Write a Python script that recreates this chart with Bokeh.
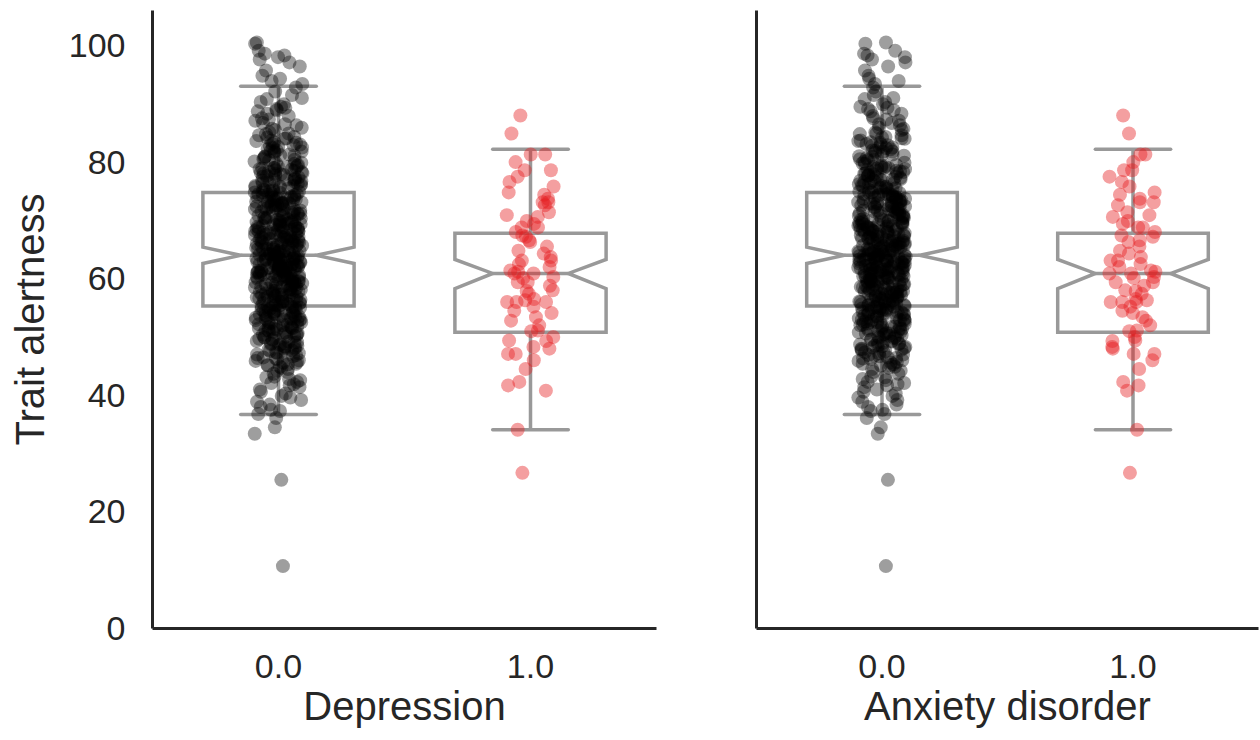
from bokeh.plotting import figure
from bokeh.layouts import row
from bokeh.models import Range1d, FixedTicker, ColumnDataSource
from bokeh.transform import jitter
from bokeh.embed import file_html
from bokeh.resources import INLINE

# ---------------- data ----------------
categories = [0, 1]
tick_labels = ["0.0", "1.0"]
panel_titles = ["Depression", "Anxiety disorder"]
y_label = "Trait alertness"
y_ticks = [0, 20, 40, 60, 80, 100]

# trait alertness, group 0.0 (no diagnosis)
alert_no = [
    10.7, 25.5, 33.4, 34.5,
    36.1, 36.8, 37.3, 37.5, 38.0, 38.4, 38.9, 39.2, 39.6, 39.9,
    40.3, 40.6, 41.0, 41.4, 41.7, 42.1, 42.3, 42.8, 43.1, 43.2, 43.7, 44.0, 44.2, 44.5, 44.7, 44.9, 42.6, 41.9,
    45.1, 45.3, 45.6, 45.9, 46.2, 46.4, 46.5, 46.8, 47.0, 47.3, 47.6, 47.8, 48.1, 48.4, 48.7, 48.9, 49.0, 49.3,
    49.5, 49.8, 45.7, 46.9, 47.4, 48.2, 48.6, 49.1, 49.6, 45.2, 47.9, 49.9,
    45.4, 46.0, 46.7, 47.2, 47.7, 48.0, 48.5, 48.8, 49.2, 49.7, 46.3, 48.3,
    50.2, 50.4, 50.6, 50.9, 51.0, 51.3, 51.5, 51.8, 52.0, 52.3, 52.5, 52.7, 52.9, 53.0, 53.3, 53.4, 53.6, 53.8,
    54.0, 54.1, 54.3, 54.6, 54.8, 54.9, 50.1, 50.7, 51.2, 51.6, 51.9, 52.2, 52.6, 53.1, 53.5, 53.9, 54.2, 54.5,
    54.7, 50.5, 51.4, 52.8, 53.7, 54.4,
    50.3, 50.8, 51.1, 51.7, 52.1, 52.4, 53.2, 53.8, 54.3, 54.9, 50.0, 51.5, 52.6, 53.0, 53.6, 54.1, 54.6, 51.9,
    52.9, 50.6,
    55.0, 55.2, 55.3, 55.5, 55.7, 55.8, 56.0, 56.1, 56.3, 56.5, 56.6, 56.8, 57.0, 57.1, 57.3, 57.4, 57.6, 57.8,
    57.9, 58.0, 58.2, 58.3, 58.5, 58.7, 58.8, 59.0, 59.1, 59.3, 59.5, 59.6, 59.8, 59.9, 55.4, 55.9, 56.4, 56.9,
    57.2, 57.7, 58.1, 58.6, 59.2, 59.7, 55.1, 56.2, 57.5, 58.4, 59.4, 55.6,
    55.2, 55.6, 56.0, 56.5, 56.9, 57.3, 57.7, 58.2, 58.6, 59.0, 59.5, 59.9, 55.8, 56.3, 57.0, 57.6, 58.0, 58.9,
    59.3, 55.5, 56.7, 57.9, 58.5, 59.7,
    60.0, 60.1, 60.2, 60.4, 60.5, 60.6, 60.8, 60.9, 61.0, 61.1, 61.3, 61.4, 61.5, 61.7, 61.8, 61.9, 62.0, 62.2,
    62.3, 62.4, 62.5, 62.7, 62.8, 62.9, 63.0, 63.1, 63.3, 63.4, 63.5, 63.6, 63.8, 63.9, 64.0, 64.1, 64.2, 64.4,
    64.5, 64.6, 64.7, 64.9, 60.3, 60.7, 61.2, 61.6, 62.1, 62.6, 63.2, 63.7, 64.3, 64.8, 60.4, 61.0, 61.9, 62.5,
    63.0, 63.5, 64.1, 64.6, 62.8, 61.4,
    60.2, 60.6, 61.1, 61.5, 61.8, 62.3, 62.7, 63.1, 63.4, 63.8, 64.2, 64.7, 60.0, 60.9, 61.6, 62.0, 62.9, 63.3,
    63.9, 64.4, 64.9, 60.5, 61.3, 62.4, 63.6, 64.0, 61.7, 62.6,
    65.0, 65.1, 65.3, 65.4, 65.6, 65.7, 65.9, 66.0, 66.2, 66.3, 66.5, 66.6, 66.8, 66.9, 67.1, 67.2, 67.4, 67.5,
    67.7, 67.8, 68.0, 68.1, 68.3, 68.4, 68.6, 68.7, 68.9, 69.0, 69.2, 69.3, 69.5, 69.6, 69.8, 69.9, 65.2, 65.8,
    66.4, 67.0, 67.6, 68.2, 68.8, 69.4, 65.5, 66.1, 66.7, 67.3, 67.9, 68.5, 69.1, 69.7, 66.0, 68.0,
    65.1, 65.6, 66.1, 66.5, 66.9, 67.3, 67.8, 68.2, 68.6, 69.1, 69.5, 69.8, 65.3, 65.9, 66.7, 67.5, 68.1, 68.9,
    69.3, 65.7, 66.3, 67.1, 68.4, 69.6,
    70.0, 70.2, 70.3, 70.5, 70.7, 70.8, 71.0, 71.2, 71.3, 71.5, 71.7, 71.9, 72.0, 72.2, 72.4, 72.5, 72.7, 72.9,
    73.1, 73.2, 73.4, 73.6, 73.8, 73.9, 74.1, 74.3, 74.5, 74.6, 74.8, 74.9, 70.4, 71.1, 71.8, 72.6, 73.3, 74.0,
    74.7, 70.9, 71.6, 72.3, 73.0, 73.7, 74.4, 70.1, 72.8, 74.2,
    70.3, 70.8, 71.2, 71.7, 72.1, 72.6, 73.0, 73.5, 74.0, 74.5, 70.6, 71.4, 72.4, 73.2, 74.2, 74.8, 70.0, 71.9,
    73.7, 72.9,
    75.0, 75.2, 75.5, 75.7, 75.9, 76.2, 76.4, 76.6, 76.9, 77.1, 77.3, 77.6, 77.8, 78.0, 78.3, 78.5, 78.7, 79.0,
    79.2, 79.4, 79.7, 79.9, 75.3, 75.8, 76.3, 76.8, 77.4, 77.9, 78.4, 78.9, 79.5, 75.1, 76.0, 77.0, 78.1, 79.1,
    76.7, 78.8,
    75.4, 75.9, 76.5, 77.0, 77.5, 78.1, 78.6, 79.3, 79.8, 75.6, 76.9, 78.2, 79.0, 77.7,
    80.1, 80.4, 80.7, 81.0, 81.3, 81.6, 81.9, 82.2, 82.5, 82.8, 83.1, 83.4, 83.7, 84.0, 84.3, 84.6, 84.9, 80.5,
    81.2, 81.8, 82.4, 83.0, 83.6, 84.2, 84.8, 82.0,
    80.3, 81.1, 81.8, 82.6, 83.3, 84.1, 80.9, 82.9,
    85.1, 85.5, 85.9, 86.3, 86.7, 87.1, 87.5, 87.9, 88.3, 88.7, 89.1, 89.5, 89.9, 85.7, 86.5, 87.3, 88.9, 89.3,
    90.3, 90.8, 91.0, 91.5, 92.1, 92.8, 93.4, 93.9, 94.3, 94.8,
    95.7, 96.4, 97.1, 97.6, 98.0, 98.3, 98.6, 99.1, 100.3, 100.5,
]

# trait alertness, group 1.0 (diagnosis)
alert_yes = [
    88.0, 84.9, 81.3, 81.3, 80.0, 78.6, 78.6, 77.5, 76.6, 75.8, 74.8, 74.4, 73.7, 73.1, 73.1, 72.6, 71.4,
    70.9, 70.6, 69.9, 69.4, 68.8, 68.8, 68.0, 67.4, 67.2, 66.6, 66.3, 65.5, 64.8, 64.3, 63.7, 63.1, 63.1,
    62.5, 62.0, 61.4, 61.2, 60.9, 60.9, 60.3, 60.1, 59.4, 59.4, 58.8, 58.0, 57.9, 57.4, 56.5, 56.3, 56.0,
    56.0, 56.0, 55.2, 54.5, 54.1, 53.4, 52.8, 52.0, 51.1, 51.0, 50.0, 49.4, 49.3, 48.3, 48.0, 47.1, 47.1,
    46.0, 44.5, 42.3, 41.7, 40.8, 34.1, 26.7,
]

# box statistics (same in both panels)
box_q1 = [55.3, 50.8]
box_q3 = [74.8, 67.8]
box_median = [64.0, 60.9]
notch_low = [62.6, 58.3]
notch_high = [65.4, 63.3]
whisker_low = [36.7, 34.1]
whisker_high = [93.0, 82.2]

# ---------------- style ----------------
FONT = "Liberation Sans"
TEXT = "#262626"
BOX_COLOR = "#999999"
BOX_W = 0.6
LW = 3.5
group_colors = ["#000000", "#e41a1c"]
group_alpha = [0.38, 0.42]

y_range = Range1d(0, 106)


def make_panel(xlabel, show_y, width, mb_left, mb_right):
    p = figure(width=width, height=740, output_backend="svg", toolbar_location=None,
               x_range=Range1d(-0.5, 1.5), y_range=y_range,
               min_border_left=mb_left, min_border_right=mb_right,
               min_border_top=10, min_border_bottom=112)
    p.outline_line_color = None
    p.grid.visible = False
    p.background_fill_color = "white"
    p.border_fill_color = "white"

    # boxes (notched)
    xs, ys = [], []
    for i, c in enumerate(categories):
        h, q = BOX_W / 2, BOX_W / 4
        xs.append([c - h, c + h, c + h, c + q, c + h, c + h, c - h, c - h, c - q, c - h])
        ys.append([box_q1[i], box_q1[i], notch_low[i], box_median[i], notch_high[i],
                   box_q3[i], box_q3[i], notch_high[i], box_median[i], notch_low[i]])
    p.patches(xs, ys, fill_color=None, line_color=BOX_COLOR, line_width=LW, line_join="miter")
    cx = [float(c) for c in categories]
    p.segment(x0=[c - BOX_W / 4 for c in cx], y0=box_median, x1=[c + BOX_W / 4 for c in cx], y1=box_median,
              line_color=BOX_COLOR, line_width=LW)
    # whiskers
    p.segment(x0=cx, y0=box_q3, x1=cx, y1=whisker_high, line_color=BOX_COLOR, line_width=LW)
    p.segment(x0=cx, y0=box_q1, x1=cx, y1=whisker_low, line_color=BOX_COLOR, line_width=LW)
    p.segment(x0=[c - BOX_W / 4 for c in cx], y0=whisker_high, x1=[c + BOX_W / 4 for c in cx], y1=whisker_high,
              line_color=BOX_COLOR, line_width=LW, line_cap="round")
    p.segment(x0=[c - BOX_W / 4 for c in cx], y0=whisker_low, x1=[c + BOX_W / 4 for c in cx], y1=whisker_low,
              line_color=BOX_COLOR, line_width=LW, line_cap="round")

    # points
    for i, vals in enumerate([alert_no, alert_yes]):
        src = ColumnDataSource(dict(x=[categories[i]] * len(vals), y=vals))
        p.scatter(x=jitter("x", width=0.19), y="y", source=src, size=14,
                  fill_color=group_colors[i], fill_alpha=group_alpha[i], line_color=None)

    # x axis
    xa = p.xaxis[0]
    xa.ticker = FixedTicker(ticks=categories)
    xa.major_label_overrides = {c: t for c, t in zip(categories, tick_labels)}
    xa.axis_label = xlabel
    xa.axis_line_color = TEXT
    xa.axis_line_width = 3
    xa.major_tick_line_color = None
    xa.minor_tick_line_color = None
    xa.major_tick_out = 0
    xa.major_label_standoff = 26
    xa.axis_label_standoff = 3
    xa.major_label_text_font = FONT
    xa.major_label_text_font_size = "34px"
    xa.major_label_text_color = TEXT
    xa.axis_label_text_font = FONT
    xa.axis_label_text_font_size = "40px"
    xa.axis_label_text_font_style = "normal"
    xa.axis_label_text_color = TEXT

    # y axis
    ya = p.yaxis[0]
    ya.axis_line_color = TEXT
    ya.axis_line_width = 3
    ya.major_tick_line_color = None
    ya.minor_tick_line_color = None
    ya.major_tick_out = 0
    if show_y:
        ya.ticker = FixedTicker(ticks=y_ticks)
        ya.axis_label = y_label
        ya.major_label_standoff = 27
        ya.axis_label_standoff = 14
        ya.major_label_text_font = FONT
        ya.major_label_text_font_size = "34px"
        ya.major_label_text_color = TEXT
        ya.axis_label_text_font = FONT
        ya.axis_label_text_font_size = "40px"
        ya.axis_label_text_font_style = "normal"
        ya.axis_label_text_color = TEXT
    else:
        ya.ticker = FixedTicker(ticks=[])
        ya.major_label_standoff = 0
    return p


p1 = make_panel(panel_titles[0], True, 706, 152, 50)
p2 = make_panel(panel_titles[1], False, 554, 50, 2)
layout = row(p1, p2)

open("out.html", "w").write(file_html(layout, INLINE))
